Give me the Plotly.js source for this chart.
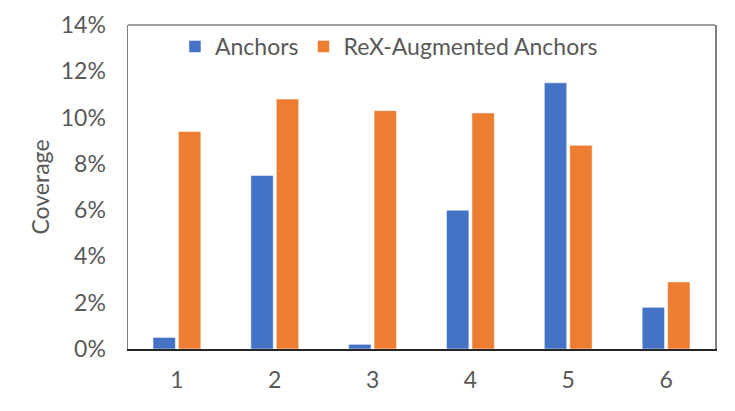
<!DOCTYPE html>
<html lang="en">
<head>
<meta charset="utf-8">
<title>Coverage</title>
<script src="https://cdn.plot.ly/plotly-3.0.1.min.js"></script>
<style>
  html, body { margin: 0; padding: 0; background: #fff; }
  #chart { width: 735px; height: 411px; }
</style>
</head>
<body>
<div id="chart"></div>
<script>
// values (coverage, in %)
var categories = ['1', '2', '3', '4', '5', '6'];
var anchors = [0.5, 7.5, 0.2, 6.0, 11.5, 1.8];
var rexAnchors = [9.4, 10.8, 10.3, 10.2, 8.8, 2.9];
var yTicks = [0, 2, 4, 6, 8, 10, 12, 14];

var font = { family: 'Lato, "Open Sans", sans-serif', size: 23, color: '#595959' };

var traces = [
  {
    type: 'bar', name: 'Anchors', x: categories, y: anchors,
    marker: { color: '#4472c4', line: { color: '#ffffff', width: 0.5 } }
  },
  {
    type: 'bar', name: 'ReX-Augmented Anchors', x: categories, y: rexAnchors,
    marker: { color: '#ed7d31', line: { color: '#ffffff', width: 0.5 } }
  }
];

var layout = {
  width: 735, height: 411,
  margin: { l: 128, r: 20, t: 25, b: 62 },
  paper_bgcolor: '#fff', plot_bgcolor: '#fff',
  font: font,
  barmode: 'group',
  bargap: 0.48,
  bargroupgap: 0.12,
  showlegend: true,
  legend: {
    orientation: 'h', x: 0.08, y: 1.0, xanchor: 'left', yanchor: 'top',
    font: font, bgcolor: 'rgba(0,0,0,0)', itemwidth: 30
  },
  xaxis: {
    type: 'category', showgrid: false, showline: true, linecolor: '#262626', linewidth: 1.5,
    ticks: '', tickfont: font, ticklabelstandoff: 10
  },
  yaxis: {
    range: [0, 14], tickvals: yTicks, ticktext: yTicks.map(function (v) { return v + '%'; }),
    showgrid: false, zeroline: false, showline: true, mirror: true, linecolor: '#7f7f7f', linewidth: 1.5,
    ticks: '', tickfont: font, ticklabelstandoff: 16,
    title: { text: 'Coverage', font: font, standoff: 4 }
  },
  shapes: [
    { type: 'line', xref: 'paper', yref: 'paper', x0: 0, x1: 1, y0: 1, y1: 1,
      line: { color: '#7f7f7f', width: 1.5 } }
  ]
};

Plotly.newPlot('chart', traces, layout, { displayModeBar: false, staticPlot: true });
</script>
</body>
</html>
